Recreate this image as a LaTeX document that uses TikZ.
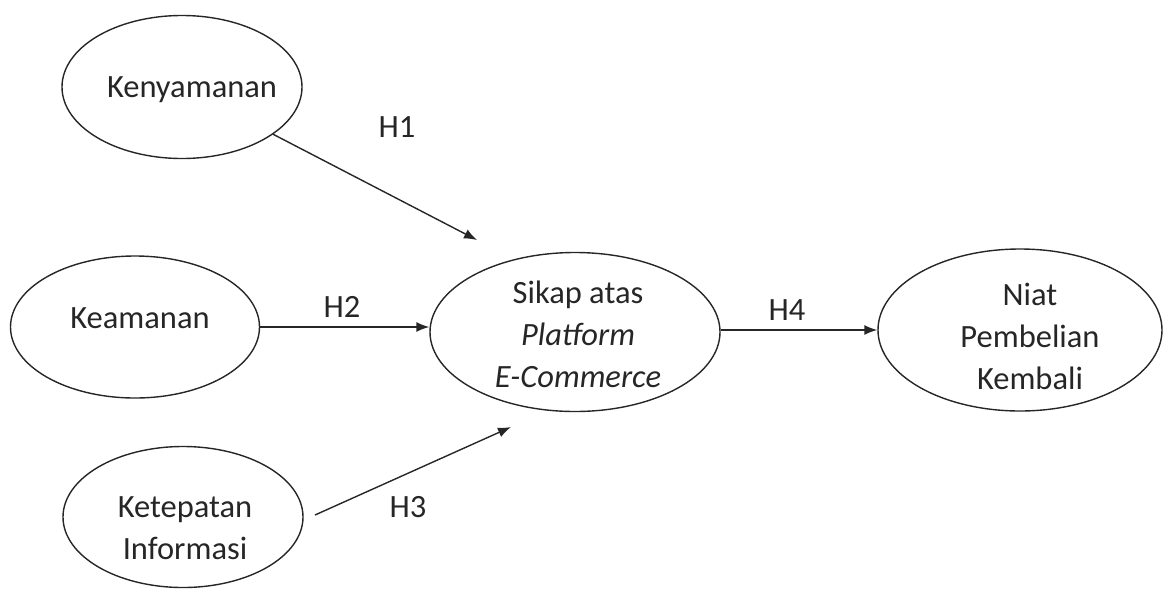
\documentclass[tikz,border=0pt]{standalone}
\usepackage{fontspec}
\setmainfont{Carlito}
\usetikzlibrary{shapes.geometric,arrows.meta}
\begin{document}
\begin{tikzpicture}[x=1pt,y=-1pt,
  oval/.style={ellipse,draw=black!85,line width=1.4pt,inner sep=0pt},
  txt/.style={text=black!85,font=\fontsize{32.5}{42}\selectfont,align=center,inner sep=0pt},
  hyp/.style={text=black!85,font=\fontsize{32.5}{42}\selectfont,inner sep=0pt},
  arr/.style={draw=black!85,line width=1.4pt,-{Latex[length=13pt,width=10pt]}}]
\useasboundingbox (0,0) rectangle (1164,590);

% constructs
\node[oval,minimum width=240pt,minimum height=143pt] (kn) at (182,87) {};
\node[txt] (knt) at (192,90) {Kenyamanan};
\node[oval,minimum width=249pt,minimum height=142pt] (ka) at (135,327) {};
\node[txt] (kat) at (140,318) {Keamanan};
\node[oval,minimum width=240pt,minimum height=141pt] (kt) at (183,517) {};
\node[txt] (ktt) at (185,528) {Ketepatan\\Informasi};
\node[oval,minimum width=290pt,minimum height=159pt] (sk) at (575,332) {};
\node[txt] (skt) at (578,334) {Sikap atas\\\itshape Platform\\\itshape E-Commerce};
\node[oval,minimum width=284pt,minimum height=162pt] (ni) at (1020,330) {};
\node[txt] (nit) at (1030,336) {Niat\\Pembelian\\Kembali};

% arrow ends
\coordinate (t1) at (477,240);
\coordinate (s3) at (315,515);
\coordinate (t3) at (511,427);

% paths
\draw[arr] (kn) -- (t1);
\draw[arr] (ka.east) -- (ka.east -| sk.west);
\draw[arr] (s3) -- (t3);
\draw[arr] (sk.east |- ni.west) -- (ni.west);

% hypothesis labels
\node[hyp] (h1) at (397,127) {H1};
\node[hyp] (h2) at (342,307) {H2};
\node[hyp] (h3) at (408,507) {H3};
\node[hyp] (h4) at (787,310) {H4};
\end{tikzpicture}
\end{document}
